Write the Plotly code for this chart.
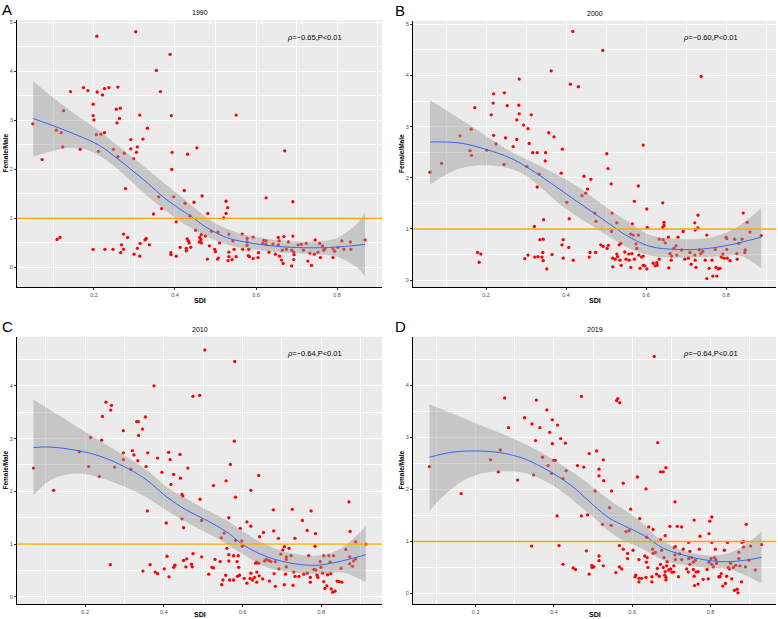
import plotly.graph_objects as go

# ---------------- data ----------------
PANEL_LETTERS = ["A", "B", "C", "D"]
PANEL_TITLES = ["1990", "2000", "2010", "2019"]
RHO_TEXT = ["<i>ρ</i>=−0.65,P<0.01", "<i>ρ</i>=−0.60,P<0.01",
            "<i>ρ</i>=−0.64,P<0.01", "<i>ρ</i>=−0.64,P<0.01"]
X_TITLE = "SDI"
Y_TITLE = "Female/Male"
REF_LINE = 1.0

A_sdi = [0.207,0.303,0.388,0.354,0.364,0.142,0.174,0.185,0.208,0.221,
0.226,0.237,0.259,0.198,0.255,0.265,0.125,0.198,0.200,0.263,
0.257,0.313,0.391,0.551,0.049,0.107,0.119,0.206,0.217,0.226,
0.332,0.291,0.321,0.123,0.166,0.211,0.248,0.291,0.307,0.275,
0.305,0.393,0.454,0.431,0.671,0.072,0.259,0.298,0.392,0.278,
0.423,0.467,0.360,0.397,0.625,0.526,0.691,0.425,0.447,0.367,
0.530,0.347,0.481,0.526,0.403,0.520,0.437,0.451,0.490,0.506,
0.465,0.475,0.461,0.464,0.460,0.465,0.430,0.433,0.435,0.428,
0.428,0.439,0.413,0.485,0.498,0.500,0.510,0.533,0.543,0.533,
0.533,0.531,0.541,0.507,0.505,0.480,0.551,0.546,0.566,0.567,
0.578,0.578,0.578,0.582,0.584,0.581,0.593,0.593,0.605,0.606,
0.617,0.619,0.625,0.625,0.632,0.642,0.655,0.657,0.655,0.648,
0.658,0.665,0.663,0.667,0.669,0.675,0.680,0.688,0.688,0.693,
0.693,0.694,0.691,0.704,0.712,0.717,0.724,0.728,0.733,0.737,
0.744,0.746,0.753,0.757,0.759,0.764,0.767,0.770,0.790,0.790,
0.794,0.802,0.812,0.817,0.833,0.834,0.869,0.109,0.116,0.198,
0.227,0.247,0.273,0.283,0.268,0.273,0.266,0.299,0.307,0.313,
0.314,0.326,0.329,0.337,0.390,0.390,0.403]
A_ratio = [4.72,4.81,4.35,4.02,3.59,3.59,3.67,3.61,3.58,3.52,
3.65,3.67,3.68,3.33,3.23,3.25,3.20,3.10,3.01,3.04,
2.95,3.11,3.10,3.11,2.93,2.80,2.75,2.71,2.72,2.75,
2.84,2.61,2.62,2.46,2.41,2.37,2.41,2.42,2.46,2.33,
2.35,2.35,2.44,2.31,2.38,2.20,2.26,2.22,2.00,1.61,
1.57,1.46,1.44,1.44,1.42,1.35,1.34,1.31,1.33,1.20,
1.22,1.09,1.10,1.10,0.93,1.01,1.05,0.76,0.74,0.72,
0.67,0.64,0.61,0.57,0.52,0.50,0.58,0.54,0.50,0.39,
0.34,0.41,0.41,0.44,0.37,0.32,0.50,0.68,0.54,0.31,
0.22,0.14,0.16,0.19,0.17,0.17,0.22,0.37,0.68,0.37,
0.59,0.52,0.45,0.37,0.22,0.24,0.62,0.18,0.20,0.30,
0.49,0.55,0.54,0.47,0.31,0.48,0.61,0.54,0.46,0.27,
0.23,0.35,0.15,0.08,0.63,0.37,0.52,0.35,0.03,0.31,
0.16,0.26,0.64,0.46,0.47,0.35,0.49,0.13,0.29,0.04,
0.27,0.56,0.31,0.49,0.20,0.44,0.35,0.38,0.20,0.38,
0.33,0.41,0.54,0.37,0.52,0.37,0.56,0.57,0.61,0.37,
0.37,0.37,0.68,0.61,0.46,0.37,0.30,0.27,0.39,0.23,
0.49,0.56,0.59,0.46,0.30,0.26,0.23]

B_sdi = [0.417,0.492,0.738,0.363,0.283,0.411,0.431,0.219,0.246,0.218,
0.253,0.282,0.172,0.283,0.213,0.313,0.277,0.294,0.305,0.163,
0.357,0.135,0.219,0.249,0.277,0.370,0.308,0.225,0.268,0.391,
0.593,0.160,0.164,0.202,0.317,0.328,0.349,0.502,0.060,0.089,
0.245,0.348,0.302,0.333,0.388,0.328,0.445,0.462,0.505,0.513,
0.454,0.449,0.440,0.402,0.581,0.571,0.642,0.602,0.408,0.472,
0.515,0.475,0.344,0.321,0.527,0.566,0.603,0.642,0.645,0.645,
0.730,0.722,0.723,0.730,0.693,0.843,0.853,0.860,0.888,0.840,
0.822,0.800,0.802,0.335,0.343,0.393,0.390,0.407,0.365,0.322,
0.330,0.340,0.343,0.297,0.305,0.187,0.179,0.183,0.393,0.418,
0.342,0.352,0.460,0.474,0.458,0.487,0.493,0.503,0.506,0.514,
0.517,0.523,0.517,0.527,0.529,0.533,0.537,0.535,0.538,0.547,
0.550,0.557,0.558,0.562,0.565,0.562,0.568,0.575,0.577,0.581,
0.571,0.582,0.585,0.589,0.593,0.593,0.597,0.602,0.618,0.623,
0.627,0.628,0.633,0.633,0.643,0.648,0.656,0.660,0.657,0.664,
0.663,0.670,0.675,0.677,0.680,0.689,0.697,0.706,0.710,0.713,
0.722,0.723,0.725,0.733,0.737,0.742,0.748,0.752,0.752,0.758,
0.765,0.767,0.773,0.775,0.777,0.781,0.785,0.788,0.792,0.795,
0.802,0.803,0.810,0.827,0.828,0.832,0.848,0.847]
B_ratio = [4.86,4.49,3.98,4.09,3.93,3.83,3.78,3.64,3.66,3.46,
3.41,3.42,3.37,3.25,3.23,3.23,3.13,3.03,2.96,2.95,
2.88,2.82,2.83,2.78,2.75,2.80,2.67,2.66,2.61,2.56,
2.64,2.53,2.44,2.54,2.49,2.49,2.49,2.47,2.11,2.28,
2.26,2.33,2.22,2.07,2.09,1.82,2.03,1.97,2.18,1.88,
1.78,1.70,1.65,1.52,1.84,1.54,1.51,1.39,1.20,1.31,
1.31,1.15,1.18,1.05,1.12,1.10,1.03,1.03,1.13,1.07,
1.27,1.12,0.98,1.02,0.95,1.31,1.13,0.94,0.87,0.80,
0.80,0.84,0.81,0.79,0.80,0.79,0.69,0.64,0.50,0.45,
0.46,0.45,0.38,0.42,0.49,0.51,0.54,0.35,0.43,0.39,
0.54,0.22,0.54,0.54,0.45,0.69,0.66,0.62,0.68,0.95,
0.43,0.41,0.26,0.51,0.46,0.69,0.72,0.39,0.29,0.55,
0.41,0.51,0.39,0.25,0.52,0.90,0.88,0.71,0.62,0.88,
0.41,0.49,0.23,0.45,0.47,0.29,0.28,0.22,0.33,0.28,
0.34,0.29,0.41,0.80,0.79,0.73,0.84,0.52,0.24,0.47,
0.39,0.62,0.67,0.49,0.84,0.59,0.41,0.43,0.54,0.31,
0.49,0.39,0.25,0.59,0.52,0.56,0.39,0.88,0.03,0.23,
0.39,0.08,0.60,0.25,0.08,0.22,0.23,0.45,0.51,0.43,
0.60,0.43,0.38,0.52,0.41,0.72,0.59,0.54]

C_sdi = [0.504,0.580,0.375,0.474,0.491,0.253,0.267,0.265,0.244,0.353,
0.331,0.335,0.346,0.297,0.336,0.214,0.242,0.579,0.185,0.320,
0.297,0.359,0.412,0.324,0.441,0.384,0.297,0.416,0.334,0.569,
0.209,0.275,0.355,0.461,0.069,0.316,0.120,0.236,0.395,0.425,
0.418,0.442,0.526,0.558,0.641,0.621,0.582,0.446,0.448,0.492,
0.358,0.406,0.446,0.496,0.450,0.565,0.611,0.621,0.594,0.678,
0.726,0.774,0.752,0.764,0.785,0.870,0.873,0.887,0.913,0.679,
0.653,0.643,0.691,0.733,0.598,0.599,0.582,0.553,0.546,0.560,
0.565,0.577,0.589,0.586,0.565,0.590,0.592,0.587,0.567,0.577,
0.547,0.604,0.611,0.619,0.621,0.625,0.630,0.633,0.636,0.641,
0.636,0.636,0.642,0.651,0.656,0.660,0.667,0.672,0.668,0.680,
0.683,0.683,0.692,0.697,0.702,0.706,0.711,0.711,0.711,0.709,
0.706,0.718,0.723,0.730,0.728,0.733,0.743,0.755,0.764,0.768,
0.772,0.772,0.781,0.784,0.786,0.789,0.791,0.797,0.799,0.803,
0.806,0.806,0.809,0.814,0.816,0.819,0.822,0.824,0.825,0.829,
0.831,0.835,0.840,0.845,0.850,0.852,0.862,0.872,0.872,0.879,
0.882,0.887,0.264,0.347,0.365,0.378,0.384,0.401,0.408,0.413,
0.425,0.428,0.450,0.456,0.458,0.470,0.472,0.474,0.496,0.514,
0.522,0.526,0.530,0.543,0.550,0.557]
C_ratio = [4.68,4.46,4.00,3.80,3.82,3.69,3.63,3.54,3.42,3.41,
3.32,3.32,3.18,3.15,3.06,3.02,2.97,2.95,2.75,2.77,
2.73,2.73,2.74,2.69,2.70,2.63,2.60,2.60,2.58,2.51,
2.47,2.46,2.47,2.44,2.44,2.42,2.02,2.28,2.36,2.32,
2.13,2.25,2.11,2.20,2.30,2.02,1.89,1.94,1.91,1.85,
1.63,1.40,1.48,1.45,1.31,1.50,1.42,1.34,1.30,1.65,
1.66,1.63,1.45,1.26,1.20,1.80,1.24,1.04,1.00,1.25,
1.22,1.14,1.11,1.11,1.06,0.96,1.07,1.21,1.12,0.92,
0.80,0.78,0.78,0.67,0.68,0.56,0.41,0.39,0.32,0.32,
0.23,0.35,0.26,0.35,0.45,0.32,0.37,0.64,0.66,0.64,
0.47,0.28,0.40,0.34,0.68,0.71,0.69,0.67,0.30,0.44,
0.20,0.67,0.53,0.81,0.89,0.95,0.76,0.71,0.57,0.43,
0.23,0.92,0.78,0.47,0.22,0.39,0.39,0.43,0.45,0.78,
0.37,0.28,0.52,0.96,0.51,0.41,0.37,0.67,0.56,0.45,
0.78,0.29,0.16,0.21,0.42,0.78,0.66,0.44,0.15,0.09,
0.78,0.11,0.30,0.29,0.54,0.28,0.90,0.76,0.63,0.58,
0.68,0.72,0.61,0.49,0.61,0.47,0.44,0.53,0.77,0.38,
0.56,0.60,0.69,0.57,0.72,0.62,0.57,0.82,0.76,0.43,
0.56,0.55,0.71,0.67,0.32,0.41]

D_sdi = [0.656,0.274,0.355,0.470,0.560,0.563,0.568,0.382,0.325,0.396,
0.344,0.409,0.284,0.364,0.389,0.417,0.353,0.396,0.429,0.665,
0.263,0.490,0.509,0.371,0.238,0.399,0.403,0.526,0.385,0.460,
0.476,0.515,0.686,0.082,0.163,0.258,0.307,0.348,0.394,0.423,
0.431,0.515,0.505,0.527,0.547,0.577,0.613,0.635,0.672,0.679,
0.709,0.596,0.542,0.470,0.486,0.408,0.546,0.524,0.619,0.584,
0.592,0.642,0.653,0.637,0.672,0.684,0.696,0.715,0.726,0.758,
0.773,0.798,0.803,0.796,0.803,0.891,0.880,0.884,0.902,0.930,
0.343,0.413,0.483,0.515,0.515,0.526,0.423,0.449,0.455,0.497,
0.497,0.502,0.490,0.558,0.567,0.567,0.573,0.577,0.588,0.588,
0.602,0.607,0.609,0.617,0.617,0.617,0.624,0.632,0.636,0.640,
0.638,0.635,0.650,0.650,0.652,0.653,0.659,0.662,0.664,0.669,
0.672,0.675,0.679,0.681,0.683,0.684,0.686,0.686,0.688,0.689,
0.693,0.698,0.701,0.706,0.706,0.707,0.709,0.710,0.710,0.718,
0.721,0.726,0.730,0.739,0.743,0.744,0.744,0.747,0.747,0.752,
0.756,0.756,0.758,0.759,0.761,0.763,0.768,0.768,0.771,0.781,
0.791,0.794,0.796,0.801,0.803,0.807,0.810,0.812,0.813,0.815,
0.821,0.824,0.827,0.831,0.835,0.838,0.841,0.843,0.845,0.848,
0.851,0.854,0.858,0.861,0.864,0.868,0.870,0.872,0.872,0.875,
0.879,0.884,0.889,0.898,0.914]
D_ratio = [4.56,3.76,3.72,3.79,3.71,3.75,3.67,3.53,3.38,3.34,
3.26,3.24,3.19,3.19,3.10,2.98,2.94,2.88,2.89,2.90,
2.76,2.69,2.74,2.62,2.57,2.56,2.56,2.57,2.46,2.46,
2.43,2.39,2.42,2.44,1.92,2.34,2.18,2.28,2.31,2.21,
2.36,2.26,1.97,2.17,1.97,2.12,2.24,2.01,2.34,2.34,
1.76,1.62,1.65,1.49,1.51,1.49,1.31,1.33,1.44,1.19,
1.21,1.28,1.23,1.08,1.03,1.11,1.29,1.29,1.28,1.41,
1.10,1.39,1.47,1.15,0.98,1.33,0.98,1.00,0.91,0.94,
0.91,0.92,0.82,0.72,0.63,0.53,0.56,0.49,0.46,0.54,
0.50,0.51,0.37,0.40,0.92,0.51,0.47,0.85,0.77,0.67,
0.83,0.32,0.35,0.65,0.29,0.22,0.29,0.72,0.60,0.50,
0.69,0.31,0.32,0.22,0.85,0.77,0.79,0.37,0.48,0.33,
0.56,0.83,0.50,0.69,0.35,0.42,0.31,0.26,0.53,0.61,
0.45,0.47,0.41,0.53,0.41,0.88,0.74,0.90,0.65,0.32,
0.76,0.65,0.85,0.47,0.41,0.98,0.67,0.81,0.56,0.69,
0.60,0.46,0.33,0.15,0.64,0.41,0.42,0.18,0.85,0.27,
0.46,0.28,0.60,0.67,0.56,0.51,0.69,0.85,0.65,0.58,
0.32,0.32,0.38,0.14,0.83,0.19,0.33,0.98,0.50,0.47,
0.58,0.28,0.50,0.06,0.54,0.08,0.01,0.67,0.79,0.53,
0.22,0.89,0.51,0.64,0.45]

# loess fit and its confidence band
A_fit_x = [0.050,0.128,0.211,0.252,0.293,0.334,0.375,0.416,0.443,0.477,0.527,0.593,0.667,0.749,0.807,0.869]
A_fit_y = [3.04,2.80,2.50,2.26,1.99,1.71,1.41,1.17,1.02,0.82,0.61,0.49,0.42,0.40,0.42,0.47]
A_hi_x = [0.050,0.128,0.211,0.252,0.293,0.334,0.375,0.416,0.450,0.500,0.550,0.600,0.650,0.700,0.750,0.800,0.850,0.869]
A_hi_y = [3.80,3.28,2.80,2.53,2.26,1.99,1.71,1.44,1.20,0.90,0.72,0.62,0.56,0.53,0.53,0.60,0.90,1.12]
A_lo_x = [0.050,0.087,0.128,0.170,0.211,0.252,0.293,0.334,0.375,0.416,0.450,0.500,0.550,0.600,0.650,0.700,0.750,0.800,0.850,0.869]
A_lo_y = [2.26,2.35,2.43,2.43,2.29,2.05,1.75,1.44,1.17,0.92,0.76,0.55,0.42,0.36,0.31,0.29,0.27,0.22,0.00,-0.18]

B_fit_x = [0.060,0.135,0.202,0.260,0.302,0.343,0.385,0.427,0.468,0.510,0.550,0.610,0.677,0.743,0.810,0.888]
B_fit_y = [2.70,2.68,2.55,2.39,2.21,2.00,1.77,1.54,1.32,1.09,0.88,0.66,0.60,0.61,0.69,0.84]
B_hi_x = [0.060,0.177,0.260,0.343,0.427,0.470,0.510,0.560,0.610,0.690,0.770,0.830,0.888]
B_hi_y = [3.52,2.94,2.52,2.20,1.84,1.60,1.37,1.12,0.88,0.80,0.85,1.05,1.41]
B_lo_x = [0.060,0.093,0.135,0.177,0.218,0.260,0.302,0.343,0.385,0.427,0.468,0.510,0.560,0.610,0.660,0.720,0.780,0.835,0.888]
B_lo_y = [1.87,2.03,2.18,2.24,2.24,2.18,2.03,1.77,1.48,1.25,1.05,0.84,0.62,0.48,0.44,0.44,0.46,0.48,0.23]

C_fit_x = [0.069,0.111,0.196,0.255,0.314,0.357,0.408,0.458,0.509,0.560,0.603,0.662,0.730,0.789,0.840,0.913]
C_fit_y = [2.83,2.84,2.75,2.62,2.41,2.21,1.89,1.64,1.45,1.23,0.98,0.76,0.63,0.60,0.66,0.80]
C_hi_x = [0.069,0.150,0.250,0.357,0.408,0.458,0.509,0.560,0.603,0.662,0.730,0.800,0.850,0.913]
C_hi_y = [3.74,3.36,2.90,2.40,2.08,1.86,1.64,1.45,1.23,0.98,0.82,0.79,0.92,1.34]
C_lo_x = [0.069,0.111,0.153,0.196,0.238,0.289,0.340,0.391,0.441,0.492,0.543,0.594,0.662,0.730,0.797,0.856,0.913]
C_lo_y = [1.92,2.21,2.32,2.33,2.26,2.12,1.95,1.72,1.48,1.28,1.08,0.84,0.56,0.46,0.44,0.46,0.28]

D_fit_x = [0.082,0.142,0.202,0.261,0.321,0.372,0.415,0.458,0.500,0.543,0.577,0.628,0.679,0.730,0.790,0.850,0.930]
D_fit_y = [2.62,2.72,2.74,2.71,2.60,2.42,2.23,1.99,1.70,1.44,1.31,1.12,0.87,0.74,0.64,0.61,0.69]
D_hi_x = [0.082,0.202,0.287,0.372,0.458,0.543,0.585,0.625,0.662,0.713,0.764,0.824,0.875,0.930]
D_hi_y = [3.64,3.27,3.01,2.69,2.28,1.79,1.58,1.36,1.09,0.87,0.76,0.74,0.87,1.19]
D_lo_x = [0.082,0.116,0.159,0.202,0.244,0.287,0.329,0.372,0.415,0.458,0.500,0.543,0.577,0.628,0.679,0.730,0.790,0.850,0.930]
D_lo_y = [1.59,1.86,2.13,2.28,2.34,2.35,2.31,2.18,1.99,1.73,1.47,1.18,1.02,0.85,0.64,0.55,0.49,0.46,0.19]

PANELS = [
    (A_sdi, A_ratio, A_fit_x, A_fit_y, A_hi_x, A_hi_y, A_lo_x, A_lo_y),
    (B_sdi, B_ratio, B_fit_x, B_fit_y, B_hi_x, B_hi_y, B_lo_x, B_lo_y),
    (C_sdi, C_ratio, C_fit_x, C_fit_y, C_hi_x, C_hi_y, C_lo_x, C_lo_y),
    (D_sdi, D_ratio, D_fit_x, D_fit_y, D_hi_x, D_hi_y, D_lo_x, D_lo_y),
]

# ---------------- layout (pixels of a 778 x 619 page) ----------------
W, H = 778, 619
BOXES = [  # left, right, top, bottom in pixels
    (17, 382, 20, 287),
    (413, 776, 20.7, 287.3),
    (17, 382, 336.7, 604.3),
    (413, 776, 336.7, 604.3),
]
X_TITLE_GAP = [13.5, 13.5, 10.5, 10.5]
X_RANGES = [[0.010, 0.911], [0.0175, 0.925], [0.027, 0.954], [0.040, 0.967]]
Y_RANGES = [[-0.40, 5.05], [-0.14, 5.07], [-0.14, 4.93], [-0.21, 4.94]]

FONT = "Liberation Sans, Arial, sans-serif"
fig = go.Figure()


def px(x):
    return x / W


def py(y):
    return 1 - y / H


annotations = []
shapes = []
for i, (sx, sy, fx, fy, hx, hy, lx, ly) in enumerate(PANELS):
    n = "" if i == 0 else str(i + 1)
    xa, ya = "x" + n, "y" + n
    # points
    fig.add_trace(go.Scatter(x=sx, y=sy, mode="markers", xaxis=xa, yaxis=ya,
                             marker=dict(color="#FF0000", size=3.3, line=dict(width=0)),
                             showlegend=False, hoverinfo="skip"))
    # confidence band
    fig.add_trace(go.Scatter(x=lx, y=ly, mode="lines", xaxis=xa, yaxis=ya,
                             line=dict(width=0, shape="spline"), showlegend=False,
                             hoverinfo="skip"))
    fig.add_trace(go.Scatter(x=hx, y=hy, mode="lines", xaxis=xa, yaxis=ya,
                             line=dict(width=0, shape="spline"), fill="tonexty",
                             fillcolor="rgba(153,153,153,0.45)", showlegend=False,
                             hoverinfo="skip"))
    # fitted line
    fig.add_trace(go.Scatter(x=fx, y=fy, mode="lines", xaxis=xa, yaxis=ya,
                             line=dict(color="#3366FF", width=1, shape="spline"),
                             showlegend=False, hoverinfo="skip"))
    # reference line at 1
    shapes.append(dict(type="line", xref=xa + " domain", yref=ya, x0=0, x1=1,
                       y0=REF_LINE, y1=REF_LINE, layer="above",
                       line=dict(color="#FFA500", width=1.4)))

    l, r, t, b = BOXES[i]
    common = dict(showgrid=True, gridcolor="white", gridwidth=1.1, zeroline=False,
                  showline=True, linecolor="black", linewidth=1, mirror=False,
                  ticks="outside", ticklen=2, tickwidth=0.8, tickcolor="#333333",
                  tickfont=dict(family=FONT, size=5.5, color="#4D4D4D"))
    fig.update_layout({
        ("xaxis" + n): dict(domain=[px(l), px(r)], range=X_RANGES[i], anchor=ya,
                            tick0=0, dtick=0.2, tickformat=".1f",
                            minor=dict(tick0=0, dtick=0.1, showgrid=True,
                                       gridcolor="white", gridwidth=0.5, ticks=""),
                            **common),
        ("yaxis" + n): dict(domain=[py(b), py(t)], range=Y_RANGES[i], anchor=xa,
                            tick0=0, dtick=1,
                            minor=dict(tick0=0, dtick=0.5, showgrid=True,
                                       gridcolor="white", gridwidth=0.5, ticks=""),
                            **common),
    })
    cx = (l + r) / 2
    # panel letter
    annotations.append(dict(text=PANEL_LETTERS[i], x=px(l - 17 if i % 2 == 0 else l - 20),
                            y=py(t - 21), xref="paper", yref="paper",
                            xanchor="left", yanchor="top", showarrow=False,
                            font=dict(family=FONT, size=15, color="black")))
    # title
    annotations.append(dict(text=PANEL_TITLES[i], x=px(cx), y=py(t - 7.5),
                            xref="paper", yref="paper", xanchor="center",
                            yanchor="middle", showarrow=False,
                            font=dict(family=FONT, size=7, color="black")))
    # correlation text
    annotations.append(dict(text=RHO_TEXT[i], x=px(l + 268), y=py(t + 17),
                            xref="paper", yref="paper", xanchor="left",
                            yanchor="middle", showarrow=False,
                            font=dict(family=FONT, size=7.5, color="black")))
    # axis titles
    annotations.append(dict(text="<b>" + X_TITLE + "</b>", x=px(cx),
                            y=py(b + X_TITLE_GAP[i]),
                            xref="paper", yref="paper", xanchor="center",
                            yanchor="middle", showarrow=False,
                            font=dict(family=FONT, size=7, color="black")))
    annotations.append(dict(text="<b>" + Y_TITLE + "</b>", x=px(l - 12), y=py((t + b) / 2),
                            xref="paper", yref="paper", xanchor="center",
                            yanchor="middle", showarrow=False, textangle=-90,
                            font=dict(family=FONT, size=6.5, color="black")))

fig.update_layout(width=W, height=H, margin=dict(l=0, r=0, t=0, b=0),
                  paper_bgcolor="white", plot_bgcolor="#EBEBEB",
                  showlegend=False, annotations=annotations, shapes=shapes,
                  font=dict(family=FONT))

# remove the browser's default 8px page margin so the figure fills the window
fig.write_html("out.html",
               config={"displayModeBar": False},
               post_script="document.body.style.margin='0';"
                           "document.body.style.overflow='hidden';")
